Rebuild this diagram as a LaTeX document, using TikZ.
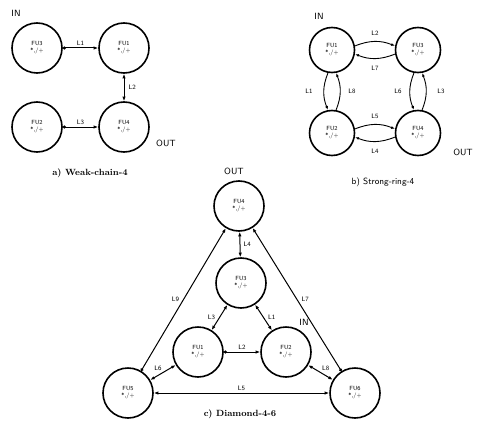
\documentclass[tikz,border=0pt]{standalone}
\usetikzlibrary{arrows.meta}
\begin{document}
\begin{tikzpicture}[x=1pt,y=-1pt,
  fu/.style={circle, draw, line width=1.6pt, minimum size=50pt, inner sep=0pt, align=center, font=\sffamily\fontsize{6}{7}\selectfont},
  fus/.style={fu, minimum size=45pt},
  lbl/.style={font=\sffamily\fontsize{6.5}{7}\selectfont, inner sep=1pt},
  io/.style={font=\sffamily\fontsize{9}{10}\selectfont, inner sep=1pt},
  captext/.style={font=\bfseries\fontsize{9}{10}\selectfont},
  lnk/.style={line width=1pt, {Circle[length=3pt]}-{Latex[length=4.5pt]}},
  dlnk/.style={line width=1pt, {Latex[length=4.5pt]}-{Latex[length=4.5pt]}},
  arc/.style={line width=0.9pt, -{Latex[length=4pt]}}
]
\useasboundingbox (0,0) rectangle (478,425);

% a) Weak-chain-4
\node[fu] (a1) at (37,48) {FU3\\*,/+};
\node[fu] (a2) at (124,48) {FU1\\*,/+};
\node[fu] (a3) at (37,127) {FU2\\*,/+};
\node[fu] (a4) at (124,127) {FU4\\*,/+};
\draw[lnk] (a1) -- (a2) node[lbl, midway, above=1pt] {L1};
\draw[dlnk] (a2) -- (a4) node[lbl, midway, right=3pt] {L2};
\draw[lnk] (a3) -- (a4) node[lbl, midway, above=1pt] {L3};
\node[io] (ain) at (16,13) {IN};
\node[io] (aout) at (166,143) {OUT};
\node[captext] (acap) at (90,173) {a) Weak-chain-4};

% b) Strong-ring-4
\node[fus] (b1) at (332,50) {FU1\\*,/+};
\node[fus] (b2) at (418,50) {FU3\\*,/+};
\node[fus] (b3) at (332,133) {FU2\\*,/+};
\node[fus] (b4) at (418,133) {FU4\\*,/+};
\draw[arc] (b1.10) to[bend left=22] (b2.170);
\draw[arc] (b2.190) to[bend left=22] (b1.350);
\draw[arc] (b3.10) to[bend left=22] (b4.170);
\draw[arc] (b4.190) to[bend left=22] (b3.350);
\draw[arc] (b1.260) to[bend right=22] (b3.100);
\draw[arc] (b3.80) to[bend right=22] (b1.280);
\draw[arc] (b2.260) to[bend right=22] (b4.100);
\draw[arc] (b4.80) to[bend right=22] (b2.280);
\node[lbl] (bl2) at (375,33) {L2};
\node[lbl] (bl7) at (375,68) {L7};
\node[lbl] (bl5) at (375,116) {L5};
\node[lbl] (bl4) at (375,151) {L4};
\node[lbl] (bl1) at (309,91) {L1};
\node[lbl] (bl8) at (352,91) {L8};
\node[lbl] (bl6) at (398,91) {L6};
\node[lbl] (bl3) at (441,91) {L3};
\node[io] (bin) at (319,16) {IN};
\node[io] (bout) at (463,152) {OUT};
\node[font=\sffamily\fontsize{9}{10}\selectfont] (bcap) at (383,182) {b) Strong-ring-4};

% c) Diamond-4-6
\node[fu] (c4) at (239,206) {FU4\\*,/+};
\node[fu] (c3) at (241,283) {FU3\\*,/+};
\node[fu] (c1) at (198,352) {FU1\\*,/+};
\node[fu] (c2) at (286,352) {FU2\\*,/+};
\node[fu] (c5) at (128,393) {FU5\\*,/+};
\node[fu] (c6) at (355,393) {FU6\\*,/+};
\draw[dlnk] (c4) -- (c3) node[lbl, midway, right=2pt] {L4};
\draw[dlnk] (c3) -- (c1) node[lbl, midway, left=3pt] {L3};
\draw[dlnk] (c3) -- (c2) node[lbl, midway, right=3pt] {L1};
\draw[lnk] (c1) -- (c2) node[lbl, midway, above=1pt] {L2};
\draw[dlnk] (c5) -- (c6) node[lbl, midway, above=1pt] {L5};
\draw[dlnk] (c5) -- (c1) node[lbl, midway, above left=0pt] {L6};
\draw[dlnk] (c6) -- (c2) node[lbl, midway, above right=0pt] {L8};
\draw[lnk] (c5) -- (c4) node[lbl, midway, left=3pt] {L9};
\draw[lnk] (c6) -- (c4) node[lbl, midway, right=3pt] {L7};
\node[io] (cout) at (234,171) {OUT};
\node[io] (cin) at (304,322) {IN};
\node[captext] (ccap) at (240,414) {c) Diamond-4-6};
\end{tikzpicture}
\end{document}
